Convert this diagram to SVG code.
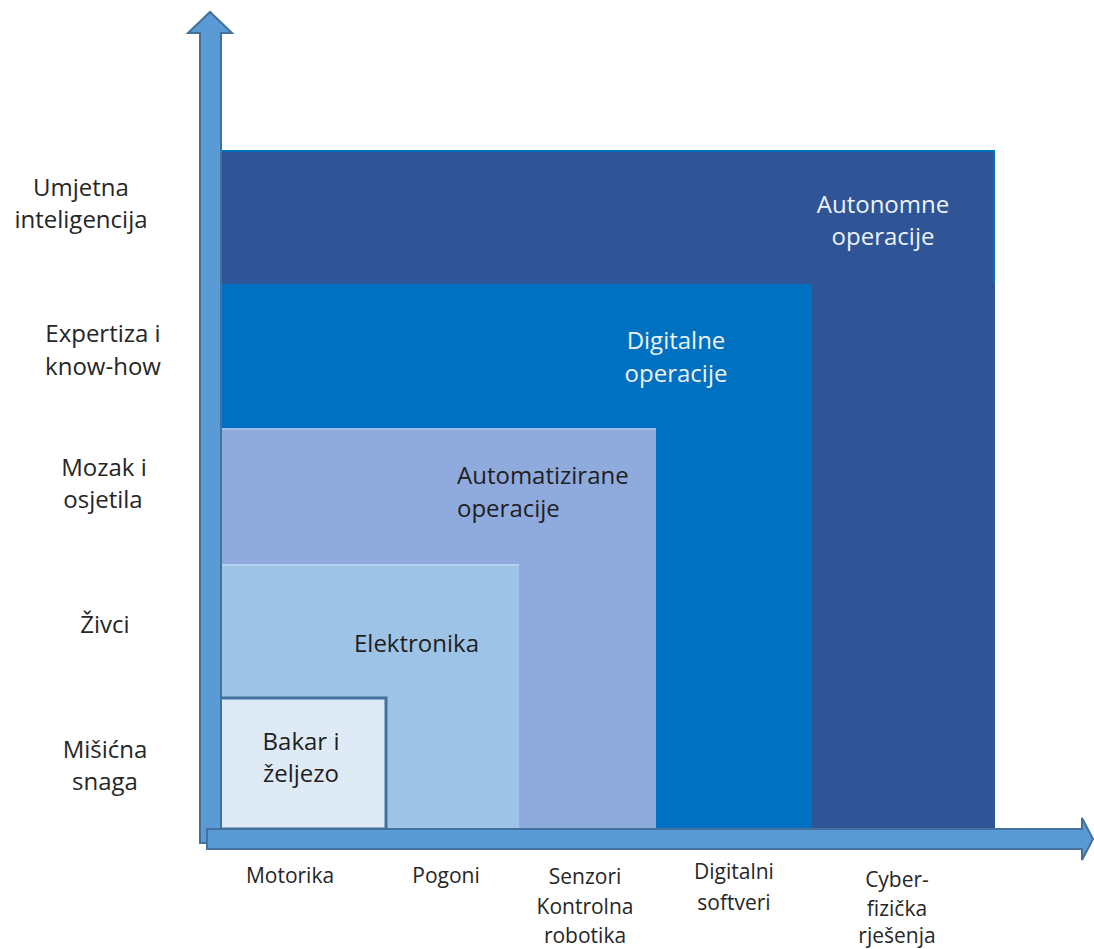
<svg xmlns="http://www.w3.org/2000/svg" width="1094" height="949" viewBox="0 0 1094 949">
<style>
text{font-family:"Open Sans","Liberation Sans",sans-serif;}
.lbl{font-size:24px;fill:#262626;text-anchor:middle;}
.bot{font-size:21px;fill:#262626;text-anchor:middle;}
.wt{font-size:24px;fill:#EDF2F9;text-anchor:middle;}
.dk{font-size:24px;fill:#1F1F1F;}
.arrow{fill:#5B9BD5;stroke:#41719C;stroke-width:2;}
</style>
<rect width="1094" height="949" fill="#FFFFFF"/>
<g id="autonomne">
<rect x="220" y="150" width="775" height="679" fill="#2F5597"/>
<polyline points="220,151 994,151 994,283" fill="none" stroke="#0070C0" stroke-width="2"/>
<text class="wt" x="883" y="213">Autonomne</text>
<text class="wt" x="883" y="245">operacije</text>
</g>
<g id="digitalne">
<rect x="220" y="284" width="592" height="545" fill="#0070C0"/>
<text class="wt" x="676" y="349">Digitalne</text>
<text class="wt" x="676" y="382">operacije</text>
</g>
<g id="automatizirane">
<rect x="220" y="428" width="436" height="401" fill="#8FAADC"/>
<line x1="220" y1="429" x2="656" y2="429" stroke="#A4BBE4" stroke-width="2"/>
<text class="dk" x="457" y="484">Automatizirane</text>
<text class="dk" x="457" y="517">operacije</text>
</g>
<g id="elektronika">
<rect x="220" y="564" width="299" height="265" fill="#9DC3E6"/>
<line x1="220" y1="565" x2="519" y2="565" stroke="#B4D2EE" stroke-width="2"/>
<text class="dk" x="354" y="652">Elektronika</text>
</g>
<g id="bakar">
<rect x="220" y="698" width="166" height="131" fill="#DEEBF7" stroke="#41719C" stroke-width="3"/>
<text class="lbl" x="301" y="750" style="fill:#1F1F1F">Bakar i</text>
<text class="lbl" x="301" y="782" style="fill:#1F1F1F">željezo</text>
</g>
<g id="connectors">
<polygon class="arrow" points="200,843 200,33 188,33 210,12 232,33 221,33 221,843"/>
<polygon class="arrow" points="207,829 1082,829 1082,818 1093,839 1082,860 1082,849 207,849"/>
</g>
<g id="y-labels">
<text class="lbl" x="81" y="196">Umjetna</text>
<text class="lbl" x="81" y="228">inteligencija</text>
<text class="lbl" x="103" y="342">Expertiza i</text>
<text class="lbl" x="103" y="375">know-how</text>
<text class="lbl" x="104" y="476">Mozak i</text>
<text class="lbl" x="103" y="508">osjetila</text>
<text class="lbl" x="105" y="633">Živci</text>
<text class="lbl" x="105" y="758">Mišićna</text>
<text class="lbl" x="105" y="790">snaga</text>
</g>
<g id="x-labels">
<text class="bot" x="290" y="883">Motorika</text>
<text class="bot" x="446" y="883">Pogoni</text>
<text class="bot" x="585" y="884">Senzori</text>
<text class="bot" x="585" y="914">Kontrolna</text>
<text class="bot" x="585" y="943">robotika</text>
<text class="bot" x="734" y="879">Digitalni</text>
<text class="bot" x="734" y="910">softveri</text>
<text class="bot" x="897" y="887">Cyber-</text>
<text class="bot" x="897" y="916">fizička</text>
<text class="bot" x="897" y="943">rješenja</text>
</g>
</svg>
